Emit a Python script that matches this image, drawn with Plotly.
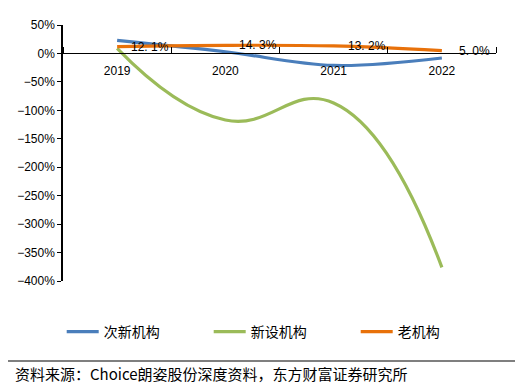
import plotly.graph_objects as go

years = ["2019", "2020", "2021", "2022"]
ci_xin = [23, 3, -21, -8]          # 次新机构
xin_she = [9, -117, -87, -376]     # 新设机构
lao = [12.1, 14.3, 13.2, 5.0]      # 老机构

series_names = ["次新机构", "新设机构", "老机构"]
colors = ["#4A7EBB", "#9BBB59", "#E8710A"]
smooth = [1.0, 1.3, 1.0]

y_ticks = list(range(-400, 51, 50))
y_tick_text = [f"{v}%".replace("-", "\u2212") for v in y_ticks]
source = "资料来源：Choice朗姿股份深度资料，东方财富证券研究所"

FONT = "Liberation Sans"
CJK = "Noto Sans CJK SC"

xi = list(range(len(years)))

fig = go.Figure()
for name, vals, c, s in zip(series_names, [ci_xin, xin_she, lao], colors, smooth):
    fig.add_trace(go.Scatter(
        x=xi, y=vals, name=name, mode="lines",
        line=dict(color=c, width=3.2, shape="spline", smoothing=s),
    ))

for x, v in zip(xi, lao):
    fig.add_annotation(
        x=x, y=v, xref="x", yref="y",
        text=f"{v:.1f}%".replace(".", ". "), showarrow=False,
        xshift=33, yshift=0,
        font=dict(family=FONT, size=12, color="#000"),
    )

# page body has an 8px default margin: figure is 518x378 so it fills the window
W, H = 518, 378
L, R, T, B = 55, 30, 17, 105
PW, PH = W - L - R, H - T - B

ymin, ymax = -400, 50
fig.update_layout(
    width=W, height=H,
    margin=dict(l=L, r=R, t=T, b=B),
    paper_bgcolor="white", plot_bgcolor="white",
    font=dict(family=FONT, size=12, color="#000"),
    xaxis=dict(
        range=[-0.5, len(years) - 0.5], automargin=False,
        tickmode="array", tickvals=xi, ticktext=years,
        anchor="free", position=(0 - ymin) / (ymax - ymin),
        showline=True, linecolor="#000", linewidth=1.3,
        ticks="outside", ticklen=6, tickcolor="rgba(0,0,0,0)",
        minor=dict(tickmode="linear", tick0=-0.5, dtick=1, ticks="inside",
                   ticklen=6, tickcolor="#000", tickwidth=1.3, showgrid=False),
        showgrid=False, zeroline=False,
        tickfont=dict(family=FONT, size=12, color="#000"),
    ),
    yaxis=dict(
        range=[ymin, ymax], tickmode="array", tickvals=y_ticks, ticktext=y_tick_text,
        automargin=False,
        showline=True, linecolor="#000", linewidth=1.5,
        ticks="outside", ticklen=4, tickcolor="#000",
        showgrid=False, zeroline=False,
        tickfont=dict(family=FONT, size=12, color="#000"),
    ),
    legend=dict(
        orientation="h", x=-0.003, xanchor="left", y=(T + PH - 324) / PH, yanchor="middle",
        entrywidth=100, entrywidthmode="pixels", itemwidth=32,
        font=dict(family=CJK, size=14),
    ),
    showlegend=True,
)

fig.add_shape(type="line", xref="paper", yref="paper",
              x0=-L / PW, x1=(507 - L) / PW,
              y0=(T + PH - 353) / PH, y1=(T + PH - 353) / PH,
              line=dict(color="#555", width=1.5))
fig.add_annotation(xref="paper", yref="paper", x=(5 - L) / PW, y=(T + PH - 365) / PH,
                   xanchor="left", yanchor="middle", showarrow=False,
                   text=source, font=dict(family=CJK, size=15, color="#000"))

fig.write_html("out.html")
